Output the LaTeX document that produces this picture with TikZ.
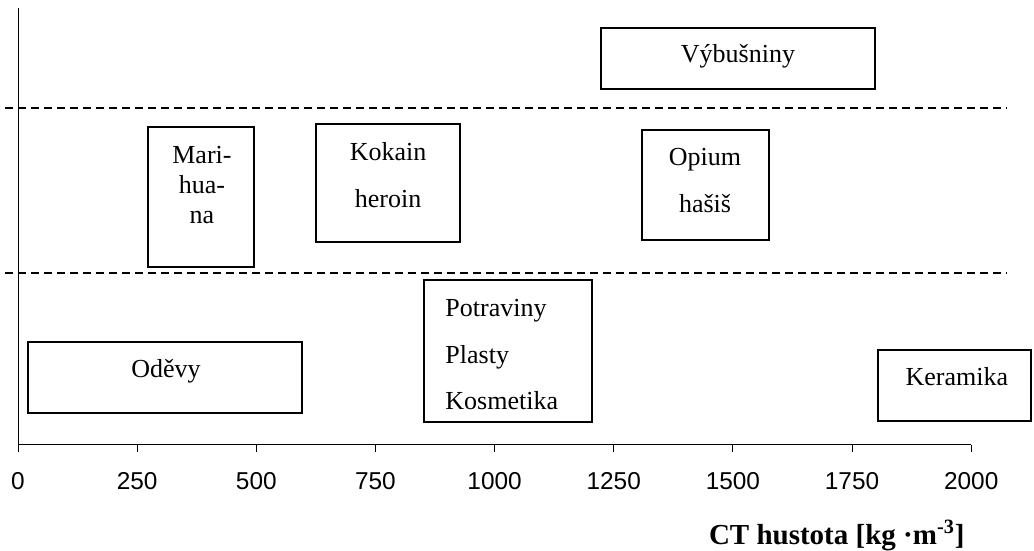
\documentclass[tikz,border=0pt]{standalone}
\usepackage{fontspec}
\setmainfont{Liberation Serif}
\setsansfont{Liberation Sans}
\usepackage{tikz}

\begin{document}
\begin{tikzpicture}[x=0.2383pt,y=0.5pt,
  kat/.style={line width=1pt},
  txt/.style={font=\fontsize{13}{23.2}\selectfont, align=center, inner sep=0pt},
  hranice/.style={line width=1pt, dash pattern=on 4pt off 2.5pt}]
\useasboundingbox (-37.77,-106) rectangle (2131.8,445);
% osy
\coordinate (O) at (0,0);
\coordinate (Y) at (0,437);
\coordinate (X) at (2000,0);
\draw [line width=0.5pt] (Y)--(O)--(X);
\foreach \x in {0,250,...,2000}{
  \draw [line width=0.5pt] (\x,0)--(\x,-7);
  \node[font=\sffamily\fontsize{12.2}{14}\selectfont] (t\x) at (\x,-36) {\x};
}
\node[font=\bfseries\fontsize{14.5}{17}\selectfont] (osa) at (1718,-90.5) {CT hustota [kg ·m\textsuperscript{-3}]};

% hranice skupin
\coordinate (h1a) at (-27.3,337);
\coordinate (h1b) at (2075,337);
\coordinate (h2a) at (-27.3,172);
\coordinate (h2b) at (2075,172);
\draw [hranice] (h1a)--(h1b);
\draw [hranice] (h2a)--(h2b);

% vybusniny
\draw [kat] (1223,356) rectangle (1798,417);
\node[txt] (vybus) at (1510.6,388.5) {Výbušniny};

% drogy
\draw [kat] (272.8,178) rectangle (495.2,318);
\node[txt, font=\fontsize{13}{15}\selectfont] (mari) at (386,260.3) {Mari-\\hua-\\na};
\draw [kat] (625.3,203) rectangle (927.4,321);
\node[txt] (koka) at (776.4,270) {Kokain\\heroin};
\draw [kat] (1309,205) rectangle (1575.7,315);
\node[txt] (opium) at (1441.5,264.5) {Opium\\hašiš};

% bezne zbozi
\draw [kat] (21,32) rectangle (595.9,103);
\node[txt] (odevy) at (310.5,73.5) {Oděvy};
\draw [kat] (851.9,23) rectangle (1204.4,165);
\node[txt, align=left, anchor=west] (potr) at (896,90.3) {Potraviny\\Plasty\\Kosmetika};
\draw [kat] (1804.4,24) rectangle (2125.5,95);
\node[txt] (kera) at (1970,68) {Keramika};
\end{tikzpicture}
\end{document}
